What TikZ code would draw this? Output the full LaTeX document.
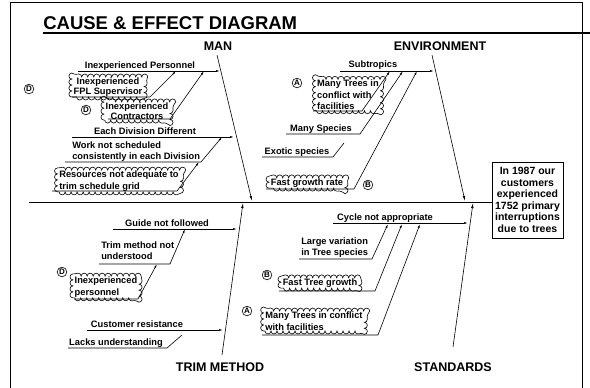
\documentclass[tikz,border=0pt]{standalone}
\usepackage{fontspec}
\setmainfont{Liberation Sans}
\usetikzlibrary{decorations.pathmorphing,arrows.meta}

\begin{document}
\begin{tikzpicture}[x=1pt,y=-1pt,line width=0.6pt,
  cause/.style={font=\fontsize{9.3}{11.5}\selectfont\bfseries, inner sep=0pt, align=left},
  bonelabel/.style={font=\fontsize{12.5}{14}\selectfont\bfseries, inner sep=0pt},
  pufftext/.style={cause, inner xsep=1.5pt, inner ysep=0.5pt},
  puffline/.style={decorate, decoration={bumps, segment length=12pt, amplitude=3pt}},
  tag/.style={circle, draw, inner sep=0.6pt, font=\fontsize{8}{8}\selectfont\bfseries},
  branch/.style={-{Latex[length=4pt,width=2pt]}},
  bone/.style={-{Latex[length=5pt,width=2.5pt]}},
  effect/.style={draw, line width=0.9pt, align=center, minimum width=71pt, minimum height=76pt,
    inner sep=1pt, font=\fontsize{10.5}{11.5}\selectfont\bfseries}]
  \useasboundingbox (0,0) rectangle (590,388);

  % --- RAMEC A NADPIS ---
  \coordinate (F1) at (10,388);
  \coordinate (F2) at (10,2);
  \coordinate (F3) at (582,2);
  \coordinate (F4) at (582,388);
  \draw (F1) -- (F2) -- (F3) -- (F4);
  \node[anchor=base west, inner sep=0pt, font=\fontsize{18.5}{20}\selectfont\bfseries] (title) at (43,29) {CAUSE \& EFFECT DIAGRAM};
  \coordinate (T1) at (43,33);
  \coordinate (T2) at (590,33);
  \draw[line width=1.1pt] (T1) -- (T2);

  % --- PATER A NASLEDEK ---
  \node[effect] (effect) at (527.5,200) {In 1987 our\\customers\\experienced\\1752 primary\\interruptions\\due to trees};
  \coordinate (S0) at (29,202);
  \draw[line width=0.8pt] (S0) -- (S0 -| effect.west);

  % hlavni kosti
  \coordinate (manTop) at (217,55);
  \coordinate (manEnd) at (252,201);
  \coordinate (envTop) at (432,55);
  \coordinate (envEnd) at (465,201);
  \coordinate (trimBot) at (222,355);
  \coordinate (trimEnd) at (243,203);
  \coordinate (stdBot) at (453,347);
  \coordinate (stdEnd) at (473,203);
  \draw[bone] (manTop) -- (manEnd);
  \draw[bone] (envTop) -- (envEnd);
  \draw[bone] (trimBot) -- (trimEnd);
  \draw[bone] (stdBot) -- (stdEnd);
  \node[bonelabel] (man) at (218,46) {MAN};
  \node[bonelabel] (env) at (440,46) {ENVIRONMENT};
  \node[bonelabel] (trim) at (220,367) {TRIM METHOD};
  \node[bonelabel] (std) at (453,367) {STANDARDS};

  % --- MAN ---
  \node[cause, anchor=base] (pers) at (140,68) {Inexperienced Personnel};
  \coordinate (persL) at (78,71);
  \coordinate (persT) at (220,71);
  \draw[branch] (persL) -- (persT);

  \node[pufftext, align=center, font=\fontsize{9.3}{9.8}\selectfont\bfseries] (fpl) at (108,87) {Inexperienced\\FPL Supervisor};
  \draw[puffline] (fpl.south west) rectangle (fpl.north east);
  \node[tag] (fplTag) at (29,89) {D};
  \coordinate (fplL) at (72,97);
  \coordinate (fplK) at (150,97);
  \coordinate (fplT) at (176,71);
  \draw[branch] (fplL) -- (fplK) -- (fplT);

  \node[pufftext, align=center, font=\fontsize{9.3}{9.8}\selectfont\bfseries] (contr) at (137,111) {Inexperienced\\Contractors};
  \draw[puffline] (contr.south west) rectangle (contr.north east);
  \node[tag] (contrTag) at (86,110) {D};
  \coordinate (contrL) at (108,119);
  \coordinate (contrK) at (170,119);
  \coordinate (contrT) at (204,71);
  \draw[branch] (contrL) -- (contrK) -- (contrT);

  \node[cause, anchor=base] (div) at (145,134) {Each Division Different};
  \coordinate (divL) at (72,137);
  \coordinate (divT) at (234,137);
  \draw[branch] (divL) -- (divT);

  \node[cause, anchor=north west] (work) at (72,141) {Work not scheduled\\consistently in each Division};
  \coordinate (workL) at (65,162);
  \coordinate (workK) at (201,162);
  \coordinate (workT) at (222,137);
  \draw[branch] (workL) -- (workK) -- (workT);

  \node[pufftext, align=left] (res) at (119,181) {Resources not adequate to\\trim schedule grid};
  \draw[puffline] (res.south west) rectangle (res.north east);
  \coordinate (resL) at (52,191);
  \coordinate (resK) at (177,191);
  \coordinate (resT) at (199,162);
  \draw[branch] (resL) -- (resK) -- (resT);

  % --- ENVIRONMENT ---
  \node[cause, anchor=base] (subtr) at (373,67) {Subtropics};
  \coordinate (subtrL) at (340,71);
  \coordinate (subtrT) at (434,71);
  \draw[branch] (subtrL) -- (subtrT);

  \node[pufftext, align=left] (confA) at (348,95) {Many Trees in\\conflict with\\facilities};
  \draw[puffline] (confA.south west) rectangle (confA.north east);
  \node[tag] (confATag) at (297,83) {A};
  \coordinate (confAL) at (313,111);
  \coordinate (confAK) at (362,111);
  \coordinate (confAT) at (390,71);
  \draw[branch] (confAL) -- (confAK) -- (confAT);

  \node[cause, anchor=base] (spec) at (321,131) {Many Species};
  \coordinate (specL) at (286,134);
  \coordinate (specK) at (360,134);
  \coordinate (specT) at (403,71);
  \draw[branch] (specL) -- (specK) -- (specT);

  \node[cause, anchor=base] (exot) at (297,154) {Exotic species};
  \coordinate (exotL) at (262,157);
  \coordinate (exotK) at (333,157);
  \coordinate (exotE) at (344,143);
  \draw (exotL) -- (exotK) -- (exotE);

  \node[pufftext, align=center] (grow) at (307,183) {Fast growth rate};
  \draw[puffline] (grow.south west) rectangle (grow.north east);
  \node[tag] (growTag) at (368,185) {B};
  \coordinate (growL) at (266,189);
  \coordinate (growK) at (354,189);
  \coordinate (growT) at (417,71);
  \draw[branch] (growL) -- (growK) -- (growT);

  % --- TRIM METHOD ---
  \node[cause, anchor=base] (guide) at (167,226) {Guide not followed};
  \coordinate (guideL) at (113,229);
  \coordinate (guideT) at (237,229);
  \draw[branch] (guideL) -- (guideT);

  \node[cause, anchor=north west] (meth) at (101,241) {Trim method not\\understood};
  \coordinate (methL) at (99,264);
  \coordinate (methK) at (170,264);
  \coordinate (methT) at (185,229);
  \draw[branch] (methL) -- (methK) -- (methT);

  \node[pufftext, align=left] (inexp) at (106,287) {Inexperienced\\personnel};
  \draw[puffline] (inexp.south west) rectangle (inexp.north east);
  \node[tag] (inexpTag) at (62,272) {D};
  \coordinate (inexpL) at (74,299);
  \coordinate (inexpK) at (138,299);
  \coordinate (inexpT) at (157,264);
  \draw[branch] (inexpL) -- (inexpK) -- (inexpT);

  \node[cause, anchor=base] (cust) at (137,327) {Customer resistance};
  \coordinate (custL) at (87,330);
  \coordinate (custT) at (223,330);
  \draw[branch] (custL) -- (custT);

  \node[cause, anchor=base] (lacks) at (116,345) {Lacks understanding};
  \coordinate (lacksL) at (68,348);
  \coordinate (lacksK) at (167,348);
  \coordinate (lacksE) at (182,335);
  \draw (lacksL) -- (lacksK) -- (lacksE);

  % --- STANDARDS ---
  \node[cause, anchor=base] (cycle) at (385,220) {Cycle not appropriate};
  \coordinate (cycleL) at (333,223);
  \coordinate (cycleT) at (468,223);
  \draw[branch] (cycleL) -- (cycleT);

  \node[cause, anchor=north west] (vari) at (301,237) {Large variation\\in Tree species};
  \coordinate (variL) at (299,259);
  \coordinate (variK) at (372,259);
  \coordinate (variT) at (388,224);
  \draw[branch] (variL) -- (variK) -- (variT);

  \node[pufftext, align=center] (fast) at (320,283) {Fast Tree growth};
  \draw[puffline] (fast.south west) rectangle (fast.north east);
  \node[tag] (fastTag) at (267,275) {B};
  \coordinate (fastL) at (279,291);
  \coordinate (fastK) at (375,291);
  \coordinate (fastT) at (402,224);
  \draw[branch] (fastL) -- (fastK) -- (fastT);

  \node[pufftext, align=left] (confB) at (314,321) {Many Trees in conflict\\with facilities};
  \draw[puffline] (confB.south west) rectangle (confB.north east);
  \node[tag] (confBTag) at (247,311) {A};
  \coordinate (confBL) at (262,335);
  \coordinate (confBK) at (378,335);
  \coordinate (confBT) at (420,224);
  \draw[branch] (confBL) -- (confBK) -- (confBT);
\end{tikzpicture}
\end{document}
